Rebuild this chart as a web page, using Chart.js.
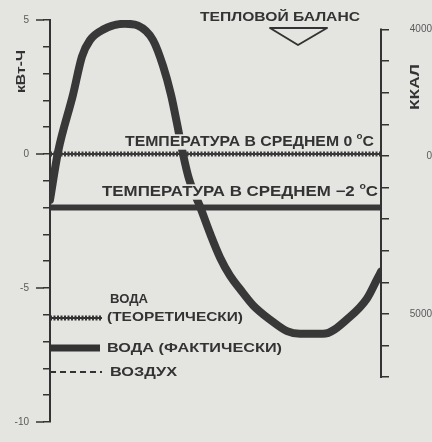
<!DOCTYPE html>
<html>
<head>
<meta charset="utf-8">
<script src="https://cdn.jsdelivr.net/npm/chart.js@4.4.1/dist/chart.umd.min.js"></script>
<style>
  html, body { margin: 0; padding: 0; background: #e4e4e1; }
  #wrap { width: 432px; height: 442px; }
</style>
</head>
<body>
<div id="wrap"><canvas id="heatChart" width="432" height="442"></canvas></div>
<script>
  // ===== DATA =====
  // position along the cycle (arbitrary units) and heat balance, kWh
  const cycleX = [0, 8, 23, 32, 40, 53, 75, 88, 103, 113, 121, 127, 133, 139,
                  150, 160, 170, 180, 190, 203, 220, 237, 250, 273, 300, 317, 327, 331];
  const balanceKwh = [-1.71, 0.07, 2.21, 3.64, 4.25, 4.64, 4.86, 4.79, 4.25, 3.29, 2.21, 1.14, 0.0, -0.93,
                      -1.96, -2.96, -3.86, -4.54, -5.04, -5.64, -6.18, -6.61, -6.71, -6.71, -6.07, -5.39, -4.68, -4.39];

  // horizontal reference lines (full width of the cycle)
  const spanX = [0, 331];
  const tempZero = [0, 0];      // water, theoretical
  const tempMinus2 = [-2, -2];  // water, actual

  // left axis (kWh)
  const kwhMin = -10, kwhMax = 5;
  const kwhLabelled = [5, 0, -5, -10];

  // right axis (kcal)
  const kcalTicks = [4000, 3000, 2000, 1000, 0, -1000, -2000, -3000, -4000, -5000, -6000, -7000];
  const kcalTickLabels = ['4000', '', '', '', '0', '', '', '', '', '5000', '', ''];
  const kcalMin = -8424, kcalMax = 4303;

  const INK = '#333';
  const PAPER = '#e4e4e1';
  const FONT = '"Liberation Sans", Arial, sans-serif';

  const pts = (xs, ys) => xs.map((x, i) => ({ x: x, y: ys[i] }));

  // draw bold text squeezed / stretched to a given width; parts may be superscript
  function fitText(ctx, parts, x0, x1, cy, size, rotate, knock) {
    ctx.save();
    if (knock) {
      // captions sit on a blank patch that interrupts the curve
      ctx.fillStyle = PAPER;
      ctx.fillRect(x0 - 2, cy - size * 0.55, x1 - x0 + 4, size * 1.1);
    }
    let w = 0;
    parts.forEach(p => {
      ctx.font = `bold ${p.sup ? size * 0.62 : size}px ${FONT}`;
      w += ctx.measureText(p.t).width;
    });
    if (rotate) {
      // x0/x1 are y extents (bottom to top), cy is the x position
      ctx.translate(cy, x0);
      ctx.rotate(-Math.PI / 2);
      ctx.scale((x0 - x1) / w, 1);
    } else {
      ctx.translate(x0, cy);
      ctx.scale((x1 - x0) / w, 1);
    }
    ctx.fillStyle = INK;
    ctx.textBaseline = 'middle';
    ctx.textAlign = 'left';
    let x = 0;
    parts.forEach(p => {
      ctx.font = `bold ${p.sup ? size * 0.62 : size}px ${FONT}`;
      ctx.fillText(p.t, x, p.sup ? -size * 0.42 : 0);
      x += ctx.measureText(p.t).width;
    });
    ctx.restore();
  }

  function hLine(ctx, x0, x1, y, width, dash) {
    ctx.save();
    ctx.strokeStyle = INK;
    ctx.lineWidth = width;
    ctx.setLineDash(dash || []);
    ctx.beginPath();
    ctx.moveTo(x0, y);
    ctx.lineTo(x1, y);
    ctx.stroke();
    ctx.restore();
  }

  // ===== extra drawing: paper, axis extras, labels, legend =====
  const paperPlugin = {
    id: 'paper',
    beforeDraw(chart) {
      const ctx = chart.ctx;
      ctx.save();
      ctx.fillStyle = PAPER;
      ctx.fillRect(0, 0, chart.width, chart.height);
      ctx.restore();
    },
    afterDraw(chart) {
      const ctx = chart.ctx;
      const a = chart.chartArea;
      const yL = chart.scales.y;
      const yR = chart.scales.y2;

      // right axis line only spans the labelled kcal range
      ctx.save();
      ctx.strokeStyle = INK;
      ctx.lineWidth = 2;
      ctx.beginPath();
      ctx.moveTo(a.right, yR.getPixelForValue(kcalTicks[0]) - 1);
      ctx.lineTo(a.right, yR.getPixelForValue(kcalTicks[kcalTicks.length - 1]) + 1);
      ctx.stroke();
      // longer ticks at labelled kWh values
      ctx.lineWidth = 1.5;
      kwhLabelled.forEach(v => {
        const y = yL.getPixelForValue(v);
        ctx.beginPath();
        ctx.moveTo(a.left - 14, y);
        ctx.lineTo(a.left - 6, y);
        ctx.stroke();
      });
      ctx.restore();

      // axis titles (read bottom to top)
      fitText(ctx, [{ t: 'кВт-Ч' }], 93, 50, 22, 12, true);
      fitText(ctx, [{ t: 'ККАЛ' }], 110, 64, 415, 13, true);

      // heat balance title with the triangle marker
      fitText(ctx, [{ t: 'ТЕПЛОВОЙ БАЛАНС' }], 200, 360, 17, 13);
      ctx.save();
      ctx.strokeStyle = INK;
      ctx.lineWidth = 2;
      ctx.lineJoin = 'round';
      ctx.beginPath();
      ctx.moveTo(270, 28);
      ctx.lineTo(327, 28);
      ctx.lineTo(298, 45);
      ctx.closePath();
      ctx.stroke();
      ctx.restore();

      // line captions
      fitText(ctx, [{ t: 'ТЕМПЕРАТУРА В СРЕДНЕМ 0 ' }, { t: 'o', sup: true }, { t: 'C' }], 125, 374, 142, 14, false, true);
      fitText(ctx, [{ t: 'ТЕМПЕРАТУРА В СРЕДНЕМ −2 ' }, { t: 'o', sup: true }, { t: 'C' }], 102, 378, 192, 14, false, true);

      // legend
      const lx0 = a.left, lx1 = a.left + 52;
      hLine(ctx, lx0, lx1, 318, 2);
      hLine(ctx, lx0, lx1, 318, 5, [2, 1.5]);
      hLine(ctx, lx0, lx1 - 2, 348, 7);
      hLine(ctx, lx0, lx1, 372, 2, [6, 4]);
      fitText(ctx, [{ t: 'ВОДА' }], 110, 148, 299, 13);
      fitText(ctx, [{ t: '(ТЕОРЕТИЧЕСКИ)' }], 107, 243, 317, 13);
      fitText(ctx, [{ t: 'ВОДА (ФАКТИЧЕСКИ)' }], 107, 282, 348, 13);
      fitText(ctx, [{ t: 'ВОЗДУХ' }], 110, 177, 372, 13);
    }
  };

  // ===== CHART =====
  const ctx = document.getElementById('heatChart').getContext('2d');
  const heatChart = new Chart(ctx, {
    type: 'line',
    data: {
      datasets: [
        {
          label: 'Тепловой баланс',
          data: pts(cycleX, balanceKwh),
          borderColor: '#383838',
          borderWidth: 8,
          cubicInterpolationMode: 'monotone',
          borderCapStyle: 'round',
          borderJoinStyle: 'round',
          pointRadius: 0,
          yAxisID: 'y'
        },
        {
          label: 'Вода (теоретически) 0 °C',
          data: pts(spanX, tempZero),
          borderColor: '#3a3a3a',
          borderWidth: 5,
          borderDash: [2, 1.5],
          pointRadius: 0,
          yAxisID: 'y'
        },
        {
          label: 'Вода (теоретически) 0 °C core',
          data: pts(spanX, tempZero),
          borderColor: '#3a3a3a',
          borderWidth: 2,
          pointRadius: 0,
          yAxisID: 'y'
        },
        {
          label: 'Вода (фактически) −2 °C',
          data: pts(spanX, tempMinus2),
          borderColor: '#383838',
          borderWidth: 6,
          pointRadius: 0,
          yAxisID: 'y'
        }
      ]
    },
    options: {
      responsive: false,
      animation: false,
      layout: { padding: { top: 12, bottom: 10, left: 0, right: 0 } },
      plugins: {
        legend: { display: false },
        tooltip: { enabled: false }
      },
      scales: {
        x: { type: 'linear', min: spanX[0], max: spanX[1], display: false },
        y: {
          position: 'left',
          min: kwhMin,
          max: kwhMax,
          afterFit: s => { s.width = 50; },
          border: { display: true, color: INK, width: 2 },
          grid: { drawOnChartArea: false, drawTicks: true, tickLength: 7, color: INK, lineWidth: 1.5 },
          ticks: {
            stepSize: 1,
            autoSkip: false,
            padding: 14,
            color: '#5a5a5a',
            font: { family: FONT, size: 10 },
            callback: v => (kwhLabelled.includes(v) ? String(v) : '')
          }
        },
        y2: {
          position: 'right',
          min: kcalMin,
          max: kcalMax,
          afterFit: s => { s.width = 51; },
          afterBuildTicks: s => { s.ticks = kcalTicks.map(v => ({ value: v })); },
          border: { display: false },
          grid: { drawOnChartArea: false, drawTicks: true, tickLength: 8, color: INK, lineWidth: 1.5 },
          ticks: {
            autoSkip: false,
            crossAlign: 'far',
            padding: 11,
            color: '#5a5a5a',
            font: { family: FONT, size: 10 },
            callback: (v, i) => kcalTickLabels[i]
          }
        }
      }
    },
    plugins: [paperPlugin]
  });
</script>
</body>
</html>
